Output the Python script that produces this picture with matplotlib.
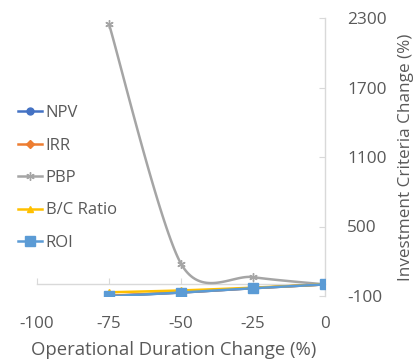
import numpy as np
import matplotlib.pyplot as plt

plt.rcParams['font.family'] = ['Open Sans', 'DejaVu Sans']
plt.rcParams['axes.unicode_minus'] = False

# operational duration change (%)
duration = [-75, -50, -25, 0]

# investment criteria change (%)
npv = [-100, -70, -33, 0]
irr = [-98, -69, -32, 0]
pbp = [2247, 179, 63, 0]
bc_ratio = [-68, -52, -28, 0]
roi = [-102, -70, -33, 0]

series = [
    ("NPV", npv, "#4472C4", "o", 5),
    ("IRR", irr, "#ED7D31", "D", 4),
    ("PBP", pbp, "#A5A5A5", (6, 2, 0), 6),
    ("B/C Ratio", bc_ratio, "#FFC000", "^", 5),
    ("ROI", roi, "#5B9BD5", "s", 7),
]

xticks = [-100, -75, -50, -25, 0]
yticks = [-100, 500, 1100, 1700, 2300]
text_col = "#595959"
axis_col = "#D9D9D9"


def smooth(xs, ys, ax, n=40, s=0.85):
    # bezier smoothing like the spreadsheet "smoothed line", done in pixel space
    fig = ax.figure
    bb = ax.get_position()
    w = bb.width * fig.get_figwidth() * fig.dpi
    h = bb.height * fig.get_figheight() * fig.dpi
    x0, x1 = ax.get_xlim()
    y0, y1 = ax.get_ylim()
    p = np.column_stack([(np.array(xs) - x0) / (x1 - x0) * w,
                         (np.array(ys) - y0) / (y1 - y0) * h])
    out = [p[0]]
    for i in range(len(p) - 1):
        a = p[i - 1] if i > 0 else p[i]
        b, c = p[i], p[i + 1]
        d = p[i + 2] if i + 2 < len(p) else p[i + 1]
        c1 = b + (c - a) / 6 * s
        c2 = c - (d - b) / 6 * s
        t = np.linspace(0, 1, n)[1:, None]
        seg = ((1 - t) ** 3) * b + 3 * ((1 - t) ** 2) * t * c1 + 3 * (1 - t) * t ** 2 * c2 + t ** 3 * c
        out.extend(seg)
    out = np.array(out)
    return out[:, 0] / w * (x1 - x0) + x0, out[:, 1] / h * (y1 - y0) + y0


fig = plt.figure(figsize=(4.16, 3.62), dpi=100)
ax = fig.add_axes([37 / 416, 1 - 296 / 362, (325 - 37) / 416, (296 - 18) / 362])
ax.set_xlim(-100, 0)
ax.set_ylim(-100, 2300)

for name, vals, col, mk, ms in series:
    sx, sy = smooth(duration, vals, ax)
    ax.plot(sx, sy, color=col, lw=1.8, zorder=3)
    ax.plot(duration, vals, linestyle="none", marker=mk, color=col, ms=ms,
            mec=col, mew=1.0, zorder=4)
    ax.plot([], [], color=col, lw=1.8, marker=mk, ms=ms, mec=col, label=name)

ax.spines["top"].set_visible(False)
ax.spines["left"].set_visible(False)
ax.spines["bottom"].set_position(("data", 0))
ax.spines["bottom"].set_color(axis_col)
ax.spines["right"].set_color(axis_col)
ax.spines["bottom"].set_linewidth(1.0)
ax.spines["right"].set_linewidth(1.0)

ax.yaxis.tick_right()
ax.yaxis.set_label_position("right")
ax.set_xticks(xticks)
ax.set_yticks(yticks)
ax.tick_params(axis="x", direction="in", length=4, color=axis_col, pad=22.5,
               labelsize=12.2, labelcolor=text_col)
ax.tick_params(axis="y", direction="in", length=4, color=axis_col, pad=16,
               labelsize=12.4, labelcolor=text_col)

ax.set_xlabel("Operational Duration Change (%)", fontsize=13.3, color=text_col,
              labelpad=6.5, x=(173.5 - 37) / 288)
ax.set_ylabel("Investment Criteria Change (%)", fontsize=12.3, color=text_col, labelpad=8)

fig.legend(loc="upper left", bbox_to_anchor=(18 / 416, 1 - 105 / 362), frameon=False,
           fontsize=12, labelcolor=text_col, handlelength=1.45, handletextpad=0.2,
           labelspacing=0.99, borderaxespad=0, borderpad=0)

fig.savefig("out.png", dpi=100)
